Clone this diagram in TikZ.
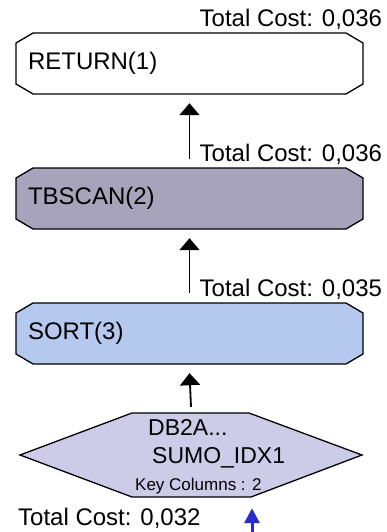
\documentclass[tikz,border=0pt]{standalone}
\usepackage{fontspec}
\setmainfont{Liberation Sans}
\usetikzlibrary{positioning, arrows.meta}

\definecolor{tbscol}{RGB}{166,163,186}
\definecolor{sortcol}{RGB}{181,201,238}
\definecolor{idxcol}{RGB}{204,203,232}
\definecolor{inblue}{RGB}{43,43,208}

\begin{document}
\begin{tikzpicture}[x=1pt, y=-1pt,
	box/.style={draw=black, line width=1.3pt, line join=miter},
	frame/.style={inner sep=0pt, minimum width=347pt, minimum height=61pt},
	optext/.style={inner sep=0pt, font=\fontsize{24}{28}\selectfont},
	idxtext/.style={inner sep=0pt, anchor=base west, font=\fontsize{23}{27}\selectfont},
	cost/.style={inner sep=0pt, anchor=base west, font=\fontsize{24}{28}\selectfont},
	flow/.style={-{Triangle[width=20pt, length=12pt]}, line width=1.8pt},
	inflow/.style={-{Triangle[width=15pt, length=15pt]}, line width=3pt, draw=inblue, color=inblue}]
	\useasboundingbox (0,0) rectangle (386,532);

	% operator boxes
	\foreach \nm/\top/\col in {ret/33/white, tbs/168/tbscol, srt/303/sortcol}{
		\draw[box, fill=\col] (16,\top+10) -- (33,\top) -- (346,\top) -- (363,\top+10)
			-- (363,\top+51) -- (346,\top+61) -- (33,\top+61) -- (16,\top+51) -- cycle;
		\node[frame] (\nm) at (189.5,\top+30.5) {};
	}
	\node[optext, right=12pt of ret.west] (rettxt) {RETURN(1)};
	\node[optext, right=12pt of tbs.west] (tbstxt) {TBSCAN(2)};
	\node[optext, right=12pt of srt.west] (srttxt) {SORT(3)};

	% index scan
	\draw[box, fill=idxcol] (20,455) -- (132,413) -- (249,413) -- (362,455)
		-- (251,497) -- (132,497) -- cycle;
	\node[inner sep=0pt, minimum width=342pt, minimum height=84pt] (idx) at (191,455) {};
	\node[idxtext] (idxschema) at ([xshift=-43pt, yshift=20pt]idx.center) {DB2A...};
	\node[idxtext] (idxname) at ([xshift=-39pt, yshift=-8pt]idx.center) {SUMO\_IDX1};
	\node[idxtext, font=\fontsize{17}{20}\selectfont] (idxkeys) at ([xshift=-56pt, yshift=-35pt]idx.center) {Key Columns : 2};

	% costs
	\node[cost] (c1) at ([xshift=10pt, yshift=6pt]ret.north) {Total Cost: 0,036};
	\node[cost] (c2) at ([xshift=10pt, yshift=6pt]tbs.north) {Total Cost: 0,036};
	\node[cost] (c3) at ([xshift=10pt, yshift=6pt]srt.north) {Total Cost: 0,035};
	\node[cost] (c4) at (18,525) {Total Cost: 0,032};

	% data flow
	\draw[flow] ([yshift=9pt]tbs.north) -- ([yshift=-9pt]ret.south);
	\draw[flow] ([yshift=10pt]srt.north) -- ([yshift=-9pt]tbs.south);
	\draw[flow] ([yshift=6pt]idx.north) -- ([yshift=-9pt]srt.south);
	\coordinate (instart) at (252,532);
	\draw[inflow] (instart) -- ([yshift=-11pt]idx.south -| instart);
\end{tikzpicture}
\end{document}
